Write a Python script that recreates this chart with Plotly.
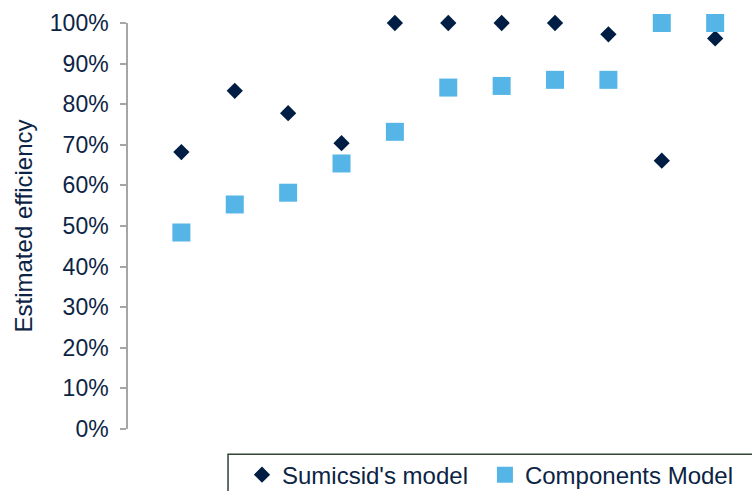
import plotly.graph_objects as go

# Efficiency estimates for each observation (share of best practice)
units = [1, 2, 3, 4, 5, 6, 7, 8, 9, 10, 11]
sumicsid_model = [0.682, 0.833, 0.778, 0.704, 1.00, 1.00, 1.00, 1.00, 0.972, 0.661, 0.962]
components_model = [0.484, 0.553, 0.582, 0.654, 0.732, 0.841, 0.845, 0.860, 0.860, 1.00, 1.00]
y_ticks = [0, 0.1, 0.2, 0.3, 0.4, 0.5, 0.6, 0.7, 0.8, 0.9, 1.0]

NAVY = "#001d44"
SKY = "#55b5e6"
TEXT = "#0c2444"
FONT = "Liberation Sans, Arial, sans-serif"

fig = go.Figure()
fig.add_trace(go.Scatter(
    x=units, y=sumicsid_model, mode="markers", name="Sumicsid's model",
    marker=dict(symbol="diamond", size=12.5, color=NAVY),
    cliponaxis=False, legend="legend",
))
fig.add_trace(go.Scatter(
    x=units, y=components_model, mode="markers", name="Components Model",
    marker=dict(symbol="square", size=18, color=SKY),
    cliponaxis=False, legend="legend2",
))

# Legend frame running off the lower right edge
fig.add_shape(type="rect", xref="paper", yref="paper",
              x0=0.1603, x1=1.2, y0=-0.062, y1=-0.2,
              line=dict(color="#2e4436", width=1.5), fillcolor="rgba(0,0,0,0)")

legend_style = dict(orientation="h", xanchor="left", y=-0.058, yanchor="top",
                    font=dict(family=FONT, size=24, color=TEXT),
                    bgcolor="rgba(0,0,0,0)", itemwidth=30)

fig.update_layout(
    width=752, height=491,
    margin=dict(l=128, r=0, t=23, b=62, autoexpand=False),
    paper_bgcolor="white", plot_bgcolor="white",
    font=dict(family=FONT, color=TEXT, size=24),
    showlegend=True,
    legend=dict(x=0.1827, **legend_style),
    legend2=dict(x=0.572, **legend_style),
    xaxis=dict(range=[0, 11.69], showgrid=False, zeroline=False, showline=False,
               showticklabels=False, ticks=""),
    yaxis=dict(range=[0, 1], tickvals=y_ticks, tickformat=".0%",
               showgrid=False, zeroline=False, showline=True,
               linecolor="#a6a6a6", linewidth=1.5, ticks="outside", ticklen=6,
               tickcolor="#a6a6a6", tickwidth=1.5, ticklabelstandoff=7,
               tickfont=dict(family=FONT, size=23, color=TEXT),
               title=dict(text="Estimated efficiency", standoff=10,
                          font=dict(family=FONT, size=24, color=TEXT))),
)

fig.write_html("out.html")
